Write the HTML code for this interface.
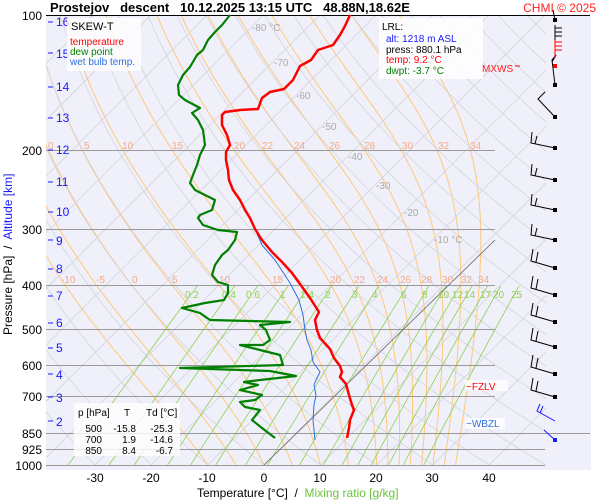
<!DOCTYPE html>
<html><head><meta charset="utf-8"><style>
body{margin:0;background:#fff;width:600px;height:500px;overflow:hidden}
svg{display:block;font-family:"Liberation Sans",sans-serif}
text{white-space:pre}
</style></head><body>
<svg id="s" width="600" height="500" xmlns="http://www.w3.org/2000/svg" xml:space="preserve">
<rect x="46" y="15" width="545" height="455" fill="#f0f0fa"/>
<defs><clipPath id="c"><rect x="46" y="15" width="449" height="450"/></clipPath>
<clipPath id="c2"><rect x="46" y="15" width="500" height="450"/></clipPath></defs>
<g id="grid" clip-path="url(#c)"></g>
<g id="grid2" clip-path="url(#c2)"></g>
<g stroke="#999" stroke-width="1">
<line x1="46" y1="150.5" x2="495" y2="150.5"/><line x1="46" y1="229.5" x2="495" y2="229.5"/>
<line x1="46" y1="285.5" x2="495" y2="285.5"/><line x1="46" y1="329.5" x2="495" y2="329.5"/>
<line x1="46" y1="365.5" x2="495" y2="365.5"/><line x1="46" y1="396.5" x2="495" y2="396.5"/>
<line x1="46" y1="433.5" x2="590" y2="433.5"/><line x1="46" y1="449.5" x2="545" y2="449.5"/>
<line x1="46" y1="465.5" x2="545" y2="465.5"/>
</g>
<line x1="264" y1="465" x2="495" y2="240" stroke="#666" stroke-width="0.8"/>
<line x1="46" y1="15.5" x2="590" y2="15.5" stroke="#000"/>
<g font-size="10" fill="#f4a98a">
<text x="48" y="149">0</text><text x="84" y="149">5</text><text x="122" y="149">10</text><text x="172" y="149">15</text><text x="234" y="149">20</text><text x="262" y="149">22</text><text x="294" y="149">24</text><text x="329" y="149">26</text><text x="364" y="149">28</text><text x="402" y="149">30</text><text x="438" y="149">32</text><text x="470" y="149">34</text>
<text x="61" y="283">-10</text><text x="96" y="283">-5</text><text x="132" y="283">0</text><text x="172" y="283">5</text><text x="219" y="283">10</text><text x="272" y="283">15</text><text x="330" y="283">20</text><text x="354" y="283">22</text><text x="377" y="283">24</text><text x="400" y="283">26</text><text x="421" y="283">28</text><text x="442" y="283">30</text><text x="461" y="283">32</text><text x="478" y="283">34</text>
</g>
<g font-size="10" fill="#8fd14f">
<text x="185" y="298">0.2</text><text x="222" y="298">0.4</text><text x="246" y="298">0.6</text><text x="280" y="298">1</text><text x="300" y="298">1.4</text><text x="325" y="298">2</text><text x="352" y="298">3</text><text x="372" y="298">4</text><text x="401" y="298">6</text><text x="422" y="298">8</text><text x="438" y="298">10</text><text x="452" y="298">12</text><text x="464" y="298">14</text><text x="480" y="298">17</text><text x="493" y="298">20</text><text x="511" y="298">25</text>
</g>
<g font-size="10" fill="#aaa">
<text x="252" y="31">-80 °C</text><text x="274" y="66">-70</text><text x="296" y="99">-60</text><text x="322" y="130">-50</text><text x="348" y="160">-40</text><text x="376" y="189">-30</text><text x="404" y="216">-20</text><text x="434" y="243">-10 °C</text>
</g>
<g fill="none" stroke-linejoin="round">
<polyline stroke="#2f6fe0" stroke-width="1" points="255,229 262,245 275,260 290,283 299,300 303,315 305,330 307,340 311,350 313,362 320,372 316,380 314,385 316,395 314,405 313,420 314,430 315,440"/>
<polyline stroke="#008000" stroke-width="2.2" points="230,15 222,25 215,32 208,40 203,50 197,55 190,67 183,75 178,85 179,95 185,100 200,108 192,113 198,120 203,130 205,145 200,155 197,165 193,175 190,183 195,190 205,195 215,200 212,210 200,215 198,218 203,225 218,230 237,232 235,240 228,250 222,255 215,265 212,275 218,282 228,285 228,293 224,300 205,303 182,308 200,313 210,320 290,322 260,325 266,330 270,340 263,345 240,345 260,350 280,355 283,365 180,368 270,371 296,376 260,380 244,382 258,385 240,390 262,395 255,400 240,402 245,407 260,410 252,420 262,428 275,438"/>
<polyline stroke="#ff0000" stroke-width="2.5" points="350,15 345,26 340,35 333,45 318,50 311,60 300,66 293,80 284,89 270,92 262,98 258,109 240,110 225,112 222,115 222,125 227,135 230,145 226,152 226,160 228,170 229,180 233,190 240,200 245,210 250,218 255,229 262,240 272,252 282,262 292,273 300,284 310,298 319,312 315,320 317,330 320,338 330,349 334,358 340,366 342,372 340,377 346,384 349,395 352,405 354,410 350,420 349,428 347,438"/>
</g>
<g id="barbs" stroke="#000" stroke-width="1" fill="none"></g>
<g font-size="12" fill="#000" text-anchor="end">
<text x="42" y="20">100</text><text x="42" y="155">200</text><text x="42" y="234">300</text><text x="42" y="290">400</text><text x="42" y="334">500</text><text x="42" y="370">600</text><text x="42" y="401">700</text><text x="42" y="438">850</text><text x="42" y="454">925</text><text x="42" y="470">1000</text>
</g>
<g font-size="12" fill="#1a1aff">
<text x="56" y="26">16</text><text x="56" y="58">15</text><text x="56" y="91">14</text><text x="56" y="122">13</text><text x="56" y="154">12</text><text x="56" y="186">11</text><text x="56" y="216">10</text><text x="56" y="245">9</text><text x="56" y="273">8</text><text x="56" y="300">7</text><text x="56" y="327">6</text><text x="56" y="352">5</text><text x="56" y="379">4</text><text x="56" y="402">3</text><text x="56" y="426">2</text>
</g>
<g stroke="#1a1aff"><path d="M48 22h5M48 53h5M48 87h5M48 118h5M48 150h5M48 182h5M48 212h5M48 240h5M48 269h5M48 296h5M48 323h5M48 348h5M48 374h5M48 397h5M48 421h5"/></g>
<text x="50" y="12" font-size="13" font-weight="bold">Prostejov   descent   10.12.2025 13:15 UTC   48.88N,18.62E</text>
<text x="596" y="12" font-size="12" fill="#ff2020" text-anchor="end">CHMI © 2025</text>
<rect x="67" y="18" width="74" height="53" fill="#fff" opacity="0.8"/>
<text x="71" y="30" font-size="11">SKEW-T</text>
<text x="70" y="45" font-size="10" fill="#ff0000">temperature</text>
<text x="70" y="55" font-size="10" fill="#008000">dew point</text>
<text x="70" y="65" font-size="10" fill="#2f6fe0">wet bulb temp.</text>
<rect x="379" y="18" width="104" height="61" fill="#fff" opacity="0.85"/>
<text x="382" y="30" font-size="10">LRL:</text>
<text x="386" y="42" font-size="10" fill="#1a1aff">alt: 1218 m ASL</text>
<text x="386" y="53" font-size="10">press: 880.1 hPa</text>
<text x="386" y="63" font-size="10" fill="#ff0000">temp: 9.2 °C</text>
<text x="386" y="74" font-size="10" fill="#008000">dwpt: -3.7 °C</text>
<text x="482" y="72" font-size="10" fill="#ff2020">MXWS</text><line x1="515" y1="66" x2="520" y2="66" stroke="#f00"/>
<rect x="465" y="380" width="43" height="11" fill="#fff" opacity="0.8"/>
<text x="466" y="390" font-size="10" fill="#ff0000">−FZLV</text>
<rect x="465" y="418" width="40" height="11" fill="#fff" opacity="0.8"/>
<text x="466" y="427" font-size="10" fill="#2f6fe0">−WBZL</text>
<rect x="74" y="403" width="106" height="53" fill="#fff" opacity="0.8"/>
<g font-size="10">
<text x="78" y="416">p [hPa]</text><text x="124" y="416">T</text><text x="146" y="416">Td [°C]</text>
<g text-anchor="end"><text x="102" y="432">500</text><text x="136" y="432">-15.8</text><text x="173" y="432">-25.3</text>
<text x="102" y="443">700</text><text x="136" y="443">1.9</text><text x="173" y="443">-14.6</text>
<text x="102" y="454">850</text><text x="136" y="454">8.4</text><text x="173" y="454">-6.7</text></g>
</g>
<g font-size="12" text-anchor="middle">
<text x="95" y="482">-30</text><text x="151" y="482">-20</text><text x="207" y="482">-10</text><text x="264" y="482">0</text><text x="320" y="482">10</text><text x="376" y="482">20</text><text x="432" y="482">30</text><text x="489" y="482">40</text>
</g>
<text x="197" y="497" font-size="12">Temperature [°C]  /  <tspan fill="#6cc23a">Mixing ratio [g/kg]</tspan></text>
<text transform="translate(12,335) rotate(-90)" font-size="12">Pressure [hPa]  /  <tspan fill="#1a1aff">Altitude [km]</tspan></text>
</svg>
<script>
(function(){
var NS="http://www.w3.org/2000/svg";
function Y(p){return 15+195.4*Math.log(p/100);}
function X(T,p){return 264+5.63*T+(465-Y(p));}
var g=document.getElementById('grid'),g2=document.getElementById('grid2');
function pl(par,pts,col,w){var e=document.createElementNS(NS,'polyline');e.setAttribute('points',pts.map(function(a){return a[0].toFixed(1)+','+a[1].toFixed(1)}).join(' '));e.setAttribute('fill','none');e.setAttribute('stroke',col);e.setAttribute('stroke-width',w);par.appendChild(e);}
var ps=[];for(var p=1050;p>=95;p-=10)ps.push(p);
for(var T=-160;T<=50;T+=10){pl(g2,[[X(T,1050),Y(1050)],[X(T,95),Y(95)]],'#d4d4dc',0.8);}
for(var th=-40;th<=200;th+=10){var a=[];ps.forEach(function(p){var t=(th+273.15)*Math.pow(p/1000,0.2857)-273.15;a.push([X(t,p),Y(p)]);});pl(g2,a,'#d4d4dc',0.8);}
function es(t){return 6.112*Math.exp(17.67*t/(t+243.5));}
[-10,-5,0,5,10,15,20,22,24,26,28,30,32,34].forEach(function(tw){var T=tw+273.15,p=1000;
 var pts=[[X(tw,p),Y(p)]];
 while(p>95){var tc=T-273.15;var e=es(tc);var rs=0.622*e/(p-e);var L=2.5e6;
 var dTdp=(287*T+L*rs)/(p*(1004+L*L*rs*0.622/(287*T*T)));T-=dTdp*2;p-=2;pts.push([X(T-273.15,p),Y(p)]);}
 pl(g,pts,'#ffc87a',1);});
[0.2,0.4,0.6,1,1.4,2,3,4,6,8,10,12,14,17,20,25].forEach(function(w){var a=[];for(var p=1000;p>=400;p-=25){var e=w/1000*p/(0.622+w/1000);var l=Math.log(e/6.112);var t=243.5*l/(17.67-l);a.push([X(t,p),Y(p)]);}pl(g2,a,'#8fd14f',0.8);});
var b=document.getElementById('barbs');
function path(d,col){var e=document.createElementNS(NS,'path');e.setAttribute('d',d);if(col)e.setAttribute('stroke',col);b.appendChild(e);}
function dot(x,y,col){var r=document.createElementNS(NS,'rect');r.setAttribute('x',x-2);r.setAttribute('y',y-2);r.setAttribute('width',4);r.setAttribute('height',4);r.setAttribute('fill',col||'#000');r.setAttribute('stroke','none');b.appendChild(r);}
[268,295,322,347,374,397].forEach(function(y){path('M555 '+y+'L531 '+(y-7)+'L533 '+(y-19)+'M536 '+(y-6)+'L538 '+(y-16));dot(555,y);});
path('M555 421L537 411L540 404M540 413L543 406','#1a1aff');path('M555 440L544 430','#1a1aff');dot(555,440,'#1a1aff');
[148,180,210,240].forEach(function(y){path('M555 '+y+'L531 '+(y-5)+'L532 '+(y-16)+'M535 '+(y-4)+'L537 '+(y-12));dot(555,y);});
path('M555 117L538 99L545 92');dot(555,117);
path('M555 85L552 60L556 55L552 62');dot(555,85);
path('M555 20L553 10');dot(555,20);
path('M555 25V55M555 28H562M555 32H562M555 36H562');
path('M555 40V58M555 42H562M555 46H562M555 50H562','#f00');dot(555,66,'#f00');
})();
</script>
</body></html>
